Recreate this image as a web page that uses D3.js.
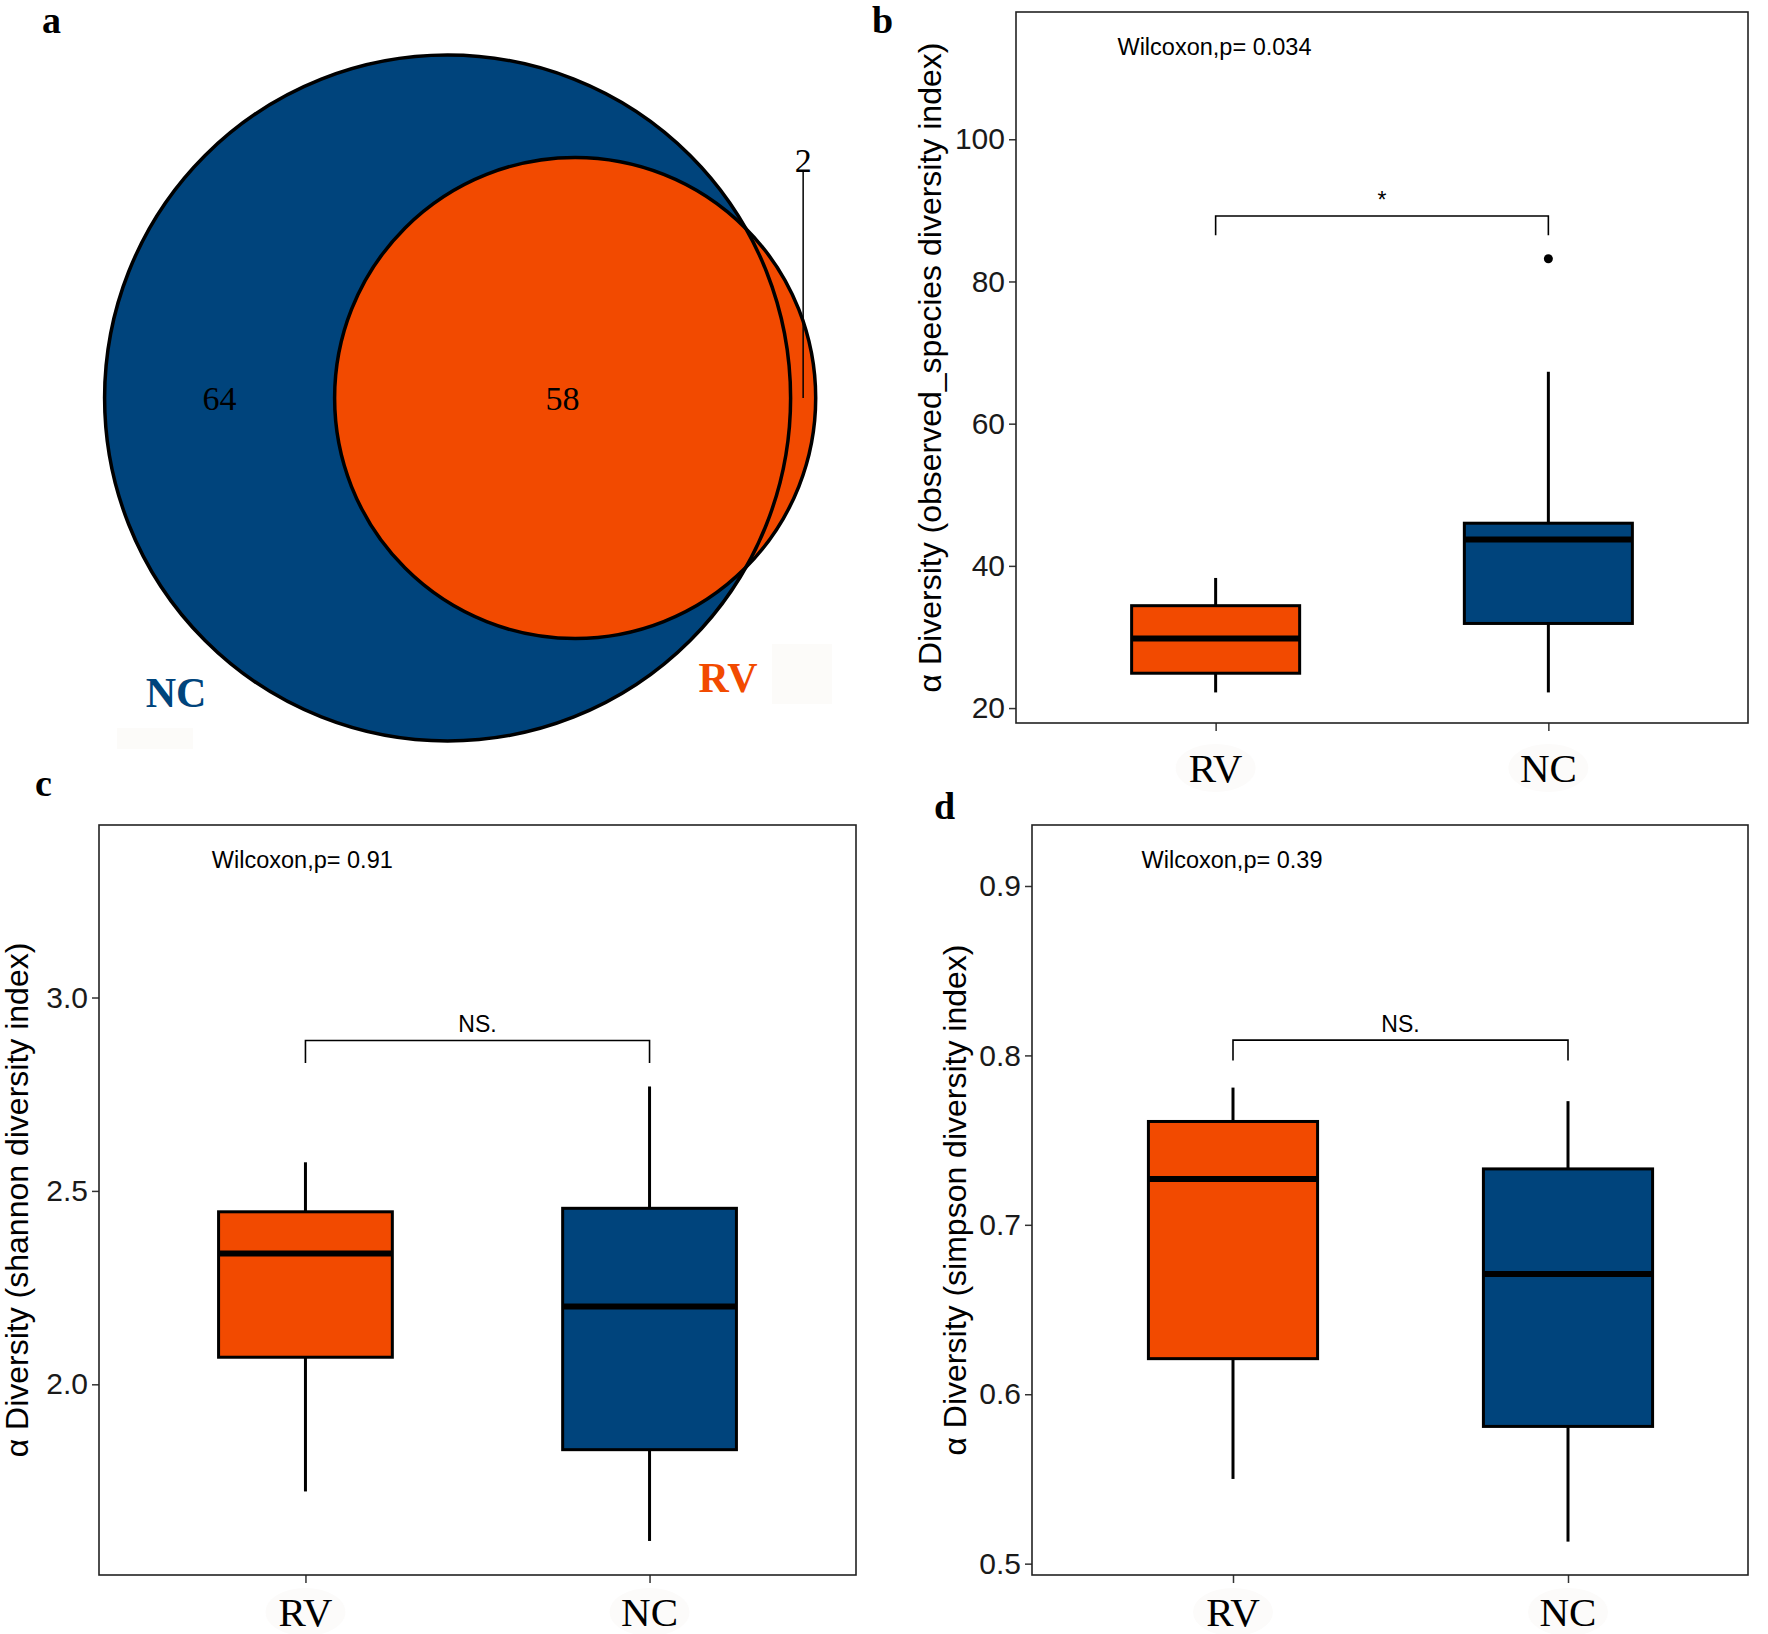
<!DOCTYPE html>
<html>
<head>
<meta charset="utf-8">
<script src="https://cdn.jsdelivr.net/npm/d3@7"></script>
<style>
  body { margin: 0; background: #fff; }
  svg { display: block; }
</style>
</head>
<body>
<svg id="svg" width="1768" height="1634"></svg>
<script>
// ---- data ----
const groups = ["RV", "NC"];
const groupColors = ["#F24A00", "#00447C"];

// venn: NC only, shared, RV only
const vennSets = ["NC", "RV"];
const vennCounts = [64, 58, 2];

// box stats: [lower whisker, Q1, median, Q3, upper whisker]
const observedRV = [22.2, 24.9, 29.8, 34.4, 38.3];
const observedNC = [22.2, 31.9, 43.7, 46.0, 67.3];
const observedOutliers = [{ group: "NC", value: 83.2 }];
const observedTicks = [20, 40, 60, 80, 100];

const shannonRV = [1.723, 2.07, 2.338, 2.446, 2.574];
const shannonNC = [1.595, 1.831, 2.201, 2.455, 2.770];
const shannonTicks = [2.0, 2.5, 3.0];

const simpsonRV = [0.550, 0.621, 0.727, 0.761, 0.781];
const simpsonNC = [0.513, 0.581, 0.671, 0.733, 0.773];
const simpsonTicks = [0.5, 0.6, 0.7, 0.8, 0.9];

const SANS = "'Liberation Sans', Arial, sans-serif";
const SERIF = "'Liberation Serif', 'Times New Roman', serif";

const svg = d3.select("#svg");
svg.append("rect").attr("width", 1768).attr("height", 1634).attr("fill", "#fff");

// panel letters
[["a", 42, 33], ["b", 872, 33], ["c", 35, 796], ["d", 934, 819]].forEach(([t, x, y]) => {
  svg.append("text").attr("x", x).attr("y", y).text(t)
    .style("font-family", SERIF).style("font-weight", "bold").style("font-size", "38px");
});

// ---- a: venn ----
function lensArea(r1, r2, d) {
  if (d >= r1 + r2) return 0;
  if (d <= Math.abs(r1 - r2)) return Math.PI * Math.min(r1, r2) ** 2;
  const a1 = Math.acos((d * d + r1 * r1 - r2 * r2) / (2 * d * r1));
  const a2 = Math.acos((d * d + r2 * r2 - r1 * r1) / (2 * d * r2));
  return r1 * r1 * a1 + r2 * r2 * a2
    - 0.5 * Math.sqrt((-d + r1 + r2) * (d + r1 - r2) * (d - r1 + r2) * (d + r1 + r2));
}

const totNC = vennCounts[0] + vennCounts[1], totRV = vennCounts[1] + vennCounts[2];
const rScale = d3.scaleSqrt().domain([0, totNC]).range([0, 343]);
const rNC = rScale(totNC), rRV = rScale(totRV);
const pxPerItem = Math.PI * rNC * rNC / totNC;
const target = vennCounts[1] * pxPerItem;
let lo = rNC - rRV, hi = rNC + rRV;
for (let i = 0; i < 60; i++) {
  const mid = (lo + hi) / 2;
  if (lensArea(rNC, rRV, mid) > target) lo = mid; else hi = mid;
}
const dist = (lo + hi) / 2;
const cy = 398, cxNC = 447.6, cxRV = cxNC + dist;

const venn = svg.append("g");
venn.append("circle").attr("cx", cxNC).attr("cy", cy).attr("r", rNC).attr("fill", groupColors[1]);
venn.append("circle").attr("cx", cxRV).attr("cy", cy).attr("r", rRV).attr("fill", groupColors[0]);
venn.append("circle").attr("cx", cxNC).attr("cy", cy).attr("r", rNC)
  .attr("fill", "none").attr("stroke", "#000").attr("stroke-width", 3.5);
venn.append("circle").attr("cx", cxRV).attr("cy", cy).attr("r", rRV)
  .attr("fill", "none").attr("stroke", "#000").attr("stroke-width", 3.5);

// faint blocks
venn.append("rect").attr("x", 772).attr("y", 644).attr("width", 60).attr("height", 60).attr("fill", "#fcfbf9");
venn.append("rect").attr("x", 117).attr("y", 728).attr("width", 76).attr("height", 21).attr("fill", "#fcfbf9");

const leftOnlyX = ((cxNC - rNC) + (cxRV - rRV)) / 2;
const sharedX = ((cxRV - rRV) + (cxNC + rNC)) / 2;
const rightOnlyX = ((cxNC + rNC) + (cxRV + rRV)) / 2;
const numStyle = t => t.style("font-family", SERIF).style("font-size", "34px").attr("text-anchor", "middle");
venn.append("text").attr("x", leftOnlyX).attr("y", cy + 12).text(vennCounts[0]).call(numStyle);
venn.append("text").attr("x", sharedX).attr("y", cy + 12).text(vennCounts[1]).call(numStyle);
venn.append("text").attr("x", rightOnlyX).attr("y", 172).text(vennCounts[2]).call(numStyle);
venn.append("line").attr("x1", rightOnlyX).attr("x2", rightOnlyX).attr("y1", 171).attr("y2", cy)
  .attr("stroke", "#000").attr("stroke-width", 1.5);

venn.append("text").attr("x", 176).attr("y", 707).text(vennSets[0])
  .attr("text-anchor", "middle").attr("fill", groupColors[1])
  .style("font-family", SERIF).style("font-weight", "bold").style("font-size", "42px");
venn.append("text").attr("x", 728).attr("y", 692).text(vennSets[1])
  .attr("text-anchor", "middle").attr("fill", groupColors[0])
  .style("font-family", SERIF).style("font-weight", "bold").style("font-size", "42px");

// ---- box panels ----
function boxPanel(o) {
  const g = svg.append("g");
  const { left, right, top, bottom } = o.box;
  const x = d3.scaleLinear().domain([0.4, 2.6]).range([left, o.xEnd || right]);
  const y = d3.scaleLinear().domain(o.yDomain).range([bottom, top]);
  const step = x(2) - x(1);
  const bw = step * 0.505;

  // faint blobs behind x labels
  groups.forEach((gname, i) => {
    g.append("ellipse").attr("cx", x(i + 1)).attr("cy", o.xLabelY - 14)
      .attr("rx", 40).attr("ry", 24).attr("fill", "#fcfbfa");
  });

  // y axis ticks + labels
  g.append("g").attr("transform", `translate(${left},0)`)
    .call(d3.axisLeft(y).tickValues(o.ticks).tickFormat(o.fmt).tickSize(7).tickPadding(4))
    .call(a => a.select(".domain").remove())
    .call(a => a.selectAll("line").attr("stroke", "#333").attr("stroke-width", 1.5))
    .call(a => a.selectAll("text").attr("fill", "#1a1a1a")
      .style("font-family", SANS).style("font-size", "30px"));

  // x ticks
  g.append("g").attr("transform", `translate(0,${bottom})`)
    .call(d3.axisBottom(x).tickValues([1, 2]).tickFormat("").tickSize(8))
    .call(a => a.select(".domain").remove())
    .call(a => a.selectAll("line").attr("stroke", "#333").attr("stroke-width", 1.5));
  groups.forEach((gname, i) => {
    g.append("text").attr("x", x(i + 1)).attr("y", o.xLabelY).text(gname)
      .attr("text-anchor", "middle").style("font-family", SERIF).style("font-size", "41px");
  });

  // boxes
  o.stats.forEach((s, i) => {
    const cx = x(i + 1);
    g.append("line").attr("x1", cx).attr("x2", cx).attr("y1", y(s[0])).attr("y2", y(s[1]))
      .attr("stroke", "#000").attr("stroke-width", 3);
    g.append("line").attr("x1", cx).attr("x2", cx).attr("y1", y(s[3])).attr("y2", y(s[4]))
      .attr("stroke", "#000").attr("stroke-width", 3);
    g.append("rect").attr("x", cx - bw / 2).attr("width", bw)
      .attr("y", y(s[3])).attr("height", y(s[1]) - y(s[3]))
      .attr("fill", groupColors[i]).attr("stroke", "#000").attr("stroke-width", 3);
    g.append("line").attr("x1", cx - bw / 2).attr("x2", cx + bw / 2)
      .attr("y1", y(s[2])).attr("y2", y(s[2]))
      .attr("stroke", "#000").attr("stroke-width", 6);
  });
  (o.outliers || []).forEach(p => {
    g.append("circle").attr("cx", x(groups.indexOf(p.group) + 1)).attr("cy", y(p.value))
      .attr("r", 4.5).attr("fill", "#000");
  });

  // significance bracket
  const [by, tipY] = o.bracket;
  g.append("path")
    .attr("d", `M${x(1)},${y(tipY)}V${y(by)}H${x(2)}V${y(tipY)}`)
    .attr("fill", "none").attr("stroke", "#000").attr("stroke-width", 1.6);
  g.append("text").attr("x", (x(1) + x(2)) / 2).attr("y", y(by) - 8).text(o.sig)
    .attr("text-anchor", "middle").style("font-family", SANS).style("font-size", "23px");

  // test label
  g.append("text").attr("x", x(o.pText[0])).attr("y", top + 43).text(o.pText[1])
    .style("font-family", SANS).style("font-size", "23.5px");

  // border
  g.append("rect").attr("x", left).attr("y", top).attr("width", right - left).attr("height", bottom - top)
    .attr("fill", "none").attr("stroke", "#222").attr("stroke-width", 1.6);

  // y title
  g.append("text")
    .attr("transform", `translate(${o.titleX},${(top + bottom) / 2}) rotate(-90)`)
    .attr("text-anchor", "middle").text(o.title)
    .style("font-family", SANS).style("font-size", "32px");
}

boxPanel({
  box: { left: 1016, right: 1748, top: 12, bottom: 723 },
  yDomain: [17.9, 117.9], ticks: observedTicks, fmt: d3.format("d"),
  stats: [observedRV, observedNC], outliers: observedOutliers,
  bracket: [89.2, 86.5], sig: "*",
  pText: [0.705, "Wilcoxon,p= 0.034"],
  title: "α Diversity (observed_species diversity index)", titleX: 941, xLabelY: 782
});

boxPanel({
  box: { left: 99, right: 856, top: 825, bottom: 1575 },
  yDomain: [1.507, 3.446], ticks: shannonTicks, fmt: d3.format(".1f"),
  stats: [shannonRV, shannonNC],
  bracket: [2.889, 2.831], sig: "NS.",
  pText: [0.728, "Wilcoxon,p= 0.91"],
  title: "α Diversity (shannon diversity index)", titleX: 28, xLabelY: 1626
});

boxPanel({
  box: { left: 1032, right: 1748, top: 825, bottom: 1575 },
  xEnd: 1769,
  yDomain: [0.4933, 0.936], ticks: simpsonTicks, fmt: d3.format(".1f"),
  stats: [simpsonRV, simpsonNC],
  bracket: [0.809, 0.797], sig: "NS.",
  pText: [0.727, "Wilcoxon,p= 0.39"],
  title: "α Diversity (simpson diversity index)", titleX: 966, xLabelY: 1626
});
</script>
</body>
</html>
